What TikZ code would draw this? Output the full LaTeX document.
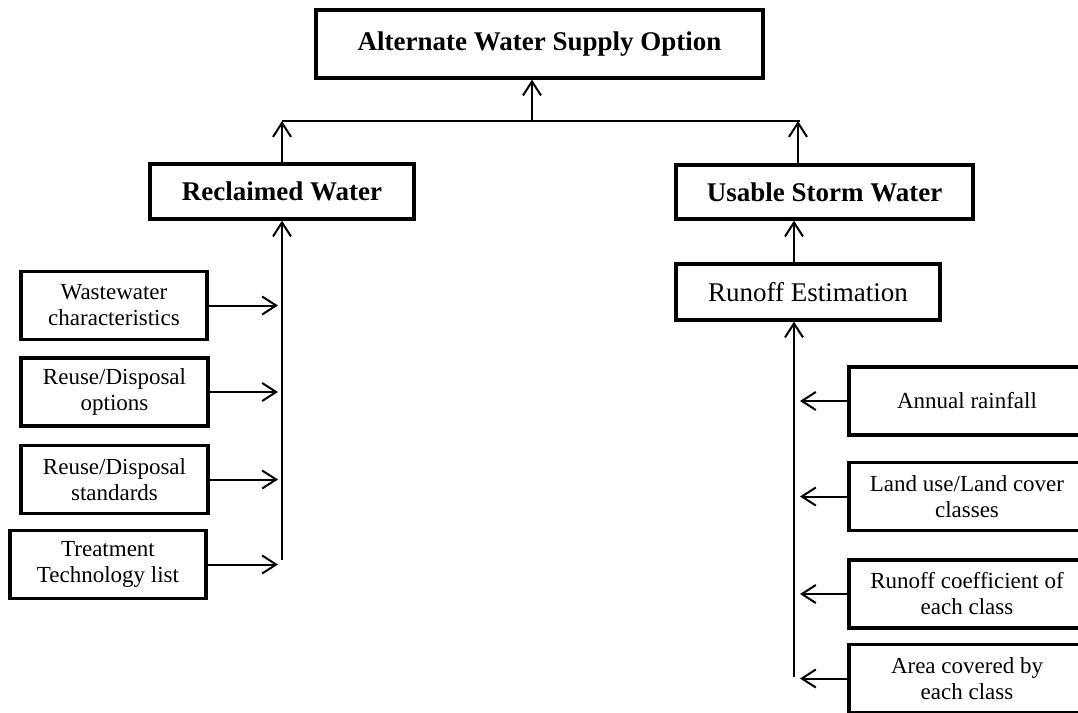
\documentclass[tikz,border=0pt]{standalone}
\usepackage{fontspec}
\setmainfont{Liberation Serif}
\usetikzlibrary{arrows.meta}

\begin{document}
\begin{tikzpicture}[
  x=0.5pt, y=-0.5pt,
  >={Straight Barb[length=7pt,width=9pt]},
  head/.style={draw, line width=1.6pt, inner sep=0pt,
    font=\fontsize{13.5}{16}\selectfont\bfseries},
  stage/.style={draw, line width=1.6pt, inner sep=0pt,
    font=\fontsize{13.5}{16}\selectfont},
  factor/.style={draw, line width=1.6pt, inner sep=0pt, align=center,
    minimum height=34pt, font=\fontsize{11.5}{13}\selectfont},
  flow/.style={->, line width=1pt},
  trunk/.style={line width=1pt}
]

\useasboundingbox (0,0) rectangle (1078,713);

% =========================================================
% GOAL AND BRANCHES
% =========================================================

\node[head, minimum width=223.5pt, minimum height=34pt]
  (supply) at (539.5,44) {Alternate Water Supply Option};

\coordinate (busL) at (282,121);
\coordinate (busR) at (798,121);
\coordinate (join) at (532,121);

\draw[trunk] (busL) -- ([xshift=1pt]busR);
\draw[flow] (join) -- (join |- supply.south);

\node[head, minimum width=132pt, minimum height=27.5pt]
  (reclaimed) at (282,191.5) {Reclaimed Water};
\node[head, minimum width=148.5pt, minimum height=27pt]
  (storm) at (824.5,192) {Usable Storm Water};

\draw[flow] (reclaimed.north) -- (reclaimed.north |- busL);
\draw[flow] (busR |- storm.north) -- (busR);

\node[stage, minimum width=132pt, minimum height=28pt]
  (runoff) at (808,292) {Runoff Estimation};

% =========================================================
% RECLAIMED WATER INPUTS
% =========================================================

\coordinate (lfoot) at (282,560);
\draw[flow] (lfoot) -- (reclaimed.south);

\node[factor, minimum width=93pt] (waste) at (114,305.5)
  {Wastewater\\characteristics};
\node[factor, minimum width=93.5pt] (options) at (114.5,392)
  {Reuse/Disposal\\options};
\node[factor, minimum width=93.5pt] (standards) at (114.5,479.5)
  {Reuse/Disposal\\standards};
\node[factor, minimum width=98pt] (techlist) at (108,564.5)
  {Treatment\\Technology list};

\draw[flow, shorten >=2pt] (waste.east) -- (waste.east -| lfoot);
\draw[flow, shorten >=2pt] (options.east) -- (options.east -| lfoot);
\draw[flow, shorten >=2pt] (standards.east) -- (standards.east -| lfoot);
\draw[flow, shorten >=2pt] (techlist.east) -- (techlist.east -| lfoot);

% =========================================================
% STORM WATER INPUTS
% =========================================================

\coordinate (rfoot) at (794,677);
\draw[flow] (rfoot) -- (rfoot |- runoff.south);
\draw[flow] (rfoot |- runoff.north) -- (rfoot |- storm.south);

\node[factor, minimum width=118pt] (rainfall) at (967,401)
  {Annual rainfall};
\node[factor, minimum width=118pt] (landuse) at (967,496.5)
  {Land use/Land cover\\classes};
\node[factor, minimum width=118pt] (coeff) at (967,594)
  {Runoff coefficient of\\each class};
\node[factor, minimum width=118pt] (area) at (967,678.5)
  {Area covered by\\each class};

\draw[flow, shorten >=3pt] (rainfall.west) -- (rainfall.west -| rfoot);
\draw[flow, shorten >=3pt] (landuse.west) -- (landuse.west -| rfoot);
\draw[flow, shorten >=3pt] (coeff.west) -- (coeff.west -| rfoot);
\draw[flow, shorten >=3pt] (area.west) -- (area.west -| rfoot);

\end{tikzpicture}
\end{document}
